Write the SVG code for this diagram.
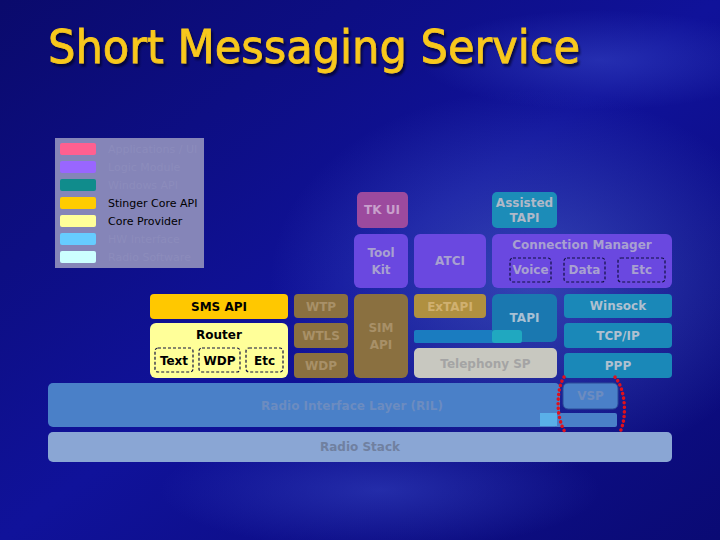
<svg xmlns="http://www.w3.org/2000/svg" width="720" height="540" viewBox="0 0 720 540">
<defs>
<linearGradient id="bg" x1="0" y1="0" x2="1" y2="1">
<stop offset="0" stop-color="#0a0a6c"/>
<stop offset="0.5" stop-color="#10129a"/>
<stop offset="1" stop-color="#0a0a74"/>
</linearGradient>
<radialGradient id="glow1" cx="0.5" cy="0.5" r="0.5">
<stop offset="0" stop-color="#5a78d8" stop-opacity="0.5"/>
<stop offset="1" stop-color="#5a78d8" stop-opacity="0"/>
</radialGradient>
<radialGradient id="glow2" cx="0.5" cy="0.5" r="0.5">
<stop offset="0" stop-color="#3a4ac8" stop-opacity="0.5"/>
<stop offset="1" stop-color="#3a4ac8" stop-opacity="0"/>
</radialGradient>
<filter id="shadow" x="-5%" y="-20%" width="110%" height="140%">
<feDropShadow dx="2" dy="3" stdDeviation="1" flood-color="#000020" flood-opacity="0.7"/>
</filter>
<style>
text{font-family:"DejaVu Sans","Liberation Sans",sans-serif;text-anchor:middle}
.lbl{font-size:12px;font-weight:bold}
.leg{font-size:11px;text-anchor:start}
.dash{fill:none;stroke:#101040;stroke-width:1.2;stroke-dasharray:3 2}
.red{fill:none;stroke:#e0101c;stroke-width:3.5;stroke-dasharray:0.1 4.5;stroke-linecap:round}
</style>
</defs>
<rect width="720" height="540" fill="url(#bg)"/>
<ellipse cx="530" cy="280" rx="260" ry="190" fill="url(#glow1)"/>
<ellipse cx="380" cy="490" rx="220" ry="60" fill="url(#glow2)"/>
<ellipse cx="600" cy="60" rx="180" ry="50" fill="url(#glow2)"/>

<g id="title">
<text x="48" y="63" font-size="47" fill="#f8c81c" stroke="#f8c81c" stroke-width="0.8" filter="url(#shadow)" style="text-anchor:start" textLength="532" lengthAdjust="spacingAndGlyphs">Short Messaging Service</text>
</g>

<g id="legend">
<rect x="55" y="138" width="149" height="130" fill="#8585b8"/>
<rect x="60" y="143" width="36" height="12" rx="2" fill="#ff6090"/>
<rect x="60" y="161" width="36" height="12" rx="2" fill="#9966ff"/>
<rect x="60" y="179" width="36" height="12" rx="2" fill="#108c8c"/>
<rect x="60" y="197" width="36" height="12" rx="2" fill="#ffcc00"/>
<rect x="60" y="215" width="36" height="12" rx="2" fill="#ffff99"/>
<rect x="60" y="233" width="36" height="12" rx="2" fill="#66ccff"/>
<rect x="60" y="251" width="36" height="12" rx="2" fill="#ccffff"/>
<text class="leg" x="108" y="153" fill="#8c8cbc">Applications / UI</text>
<text class="leg" x="108" y="171" fill="#8c8cbc">Logic Module</text>
<text class="leg" x="108" y="189" fill="#8c8cbc">Windows API</text>
<text class="leg" x="108" y="207" fill="#000000">Stinger Core API</text>
<text class="leg" x="108" y="225" fill="#000000">Core Provider</text>
<text class="leg" x="108" y="243" fill="#8c8cbc">HW Interface</text>
<text class="leg" x="108" y="261" fill="#8c8cbc">Radio Software</text>
</g>

<g id="tkui">
<rect x="357" y="192" width="51" height="36" rx="5" fill="#9c4a9e"/>
<text class="lbl" x="382" y="214" fill="#c8a0cc">TK UI</text>
</g>
<g id="assisted-tapi">
<rect x="492" y="192" width="65" height="36" rx="5" fill="#1c8cb8"/>
<text class="lbl" x="524.5" y="207" fill="#b0b8c8">Assisted</text>
<text class="lbl" x="524.5" y="222" fill="#b0b8c8">TAPI</text>
</g>
<g id="toolkit">
<rect x="354" y="234" width="54" height="54" rx="6" fill="#6a48e0"/>
<text class="lbl" x="381" y="257" fill="#a8a0d0">Tool</text>
<text class="lbl" x="381" y="274" fill="#a8a0d0">Kit</text>
</g>
<g id="atci">
<rect x="414" y="234" width="72" height="54" rx="6" fill="#6a48e0"/>
<text class="lbl" x="450" y="265" fill="#a8a0d0">ATCI</text>
</g>
<g id="connection-manager">
<rect x="492" y="234" width="180" height="54" rx="6" fill="#6a48e0"/>
<text class="lbl" x="582" y="249" fill="#a8a0d0">Connection Manager</text>
<rect class="dash" x="510" y="258" width="41" height="24" rx="3"/>
<text class="lbl" x="530.5" y="274" fill="#a8a0d0">Voice</text>
<rect class="dash" x="564" y="258" width="41" height="24" rx="3"/>
<text class="lbl" x="584.5" y="274" fill="#a8a0d0">Data</text>
<rect class="dash" x="618" y="258" width="47" height="24" rx="3"/>
<text class="lbl" x="641.5" y="274" fill="#a8a0d0">Etc</text>
</g>

<g id="sms-api">
<rect x="150" y="294" width="138" height="25" rx="4" fill="#ffc800"/>
<text class="lbl" x="219" y="311" fill="#000000">SMS API</text>
</g>
<g id="router">
<rect x="150" y="323" width="138" height="55" rx="6" fill="#ffff99"/>
<text class="lbl" x="219" y="339" fill="#000000">Router</text>
<rect class="dash" x="155" y="348" width="38" height="24" rx="3"/>
<text class="lbl" x="174" y="365" fill="#000000">Text</text>
<rect class="dash" x="199" y="348" width="41" height="24" rx="3"/>
<text class="lbl" x="219.5" y="365" fill="#000000">WDP</text>
<rect class="dash" x="246" y="348" width="37" height="24" rx="3"/>
<text class="lbl" x="264.5" y="365" fill="#000000">Etc</text>
</g>
<g id="wtp">
<rect x="294" y="294" width="54" height="24" rx="4" fill="#8a7040"/>
<text class="lbl" x="321" y="311" fill="#a89068">WTP</text>
</g>
<g id="wtls">
<rect x="294" y="323" width="54" height="25" rx="4" fill="#8a7040"/>
<text class="lbl" x="321" y="340" fill="#a89068">WTLS</text>
</g>
<g id="wdp">
<rect x="294" y="353" width="54" height="25" rx="4" fill="#8a7040"/>
<text class="lbl" x="321" y="370" fill="#a89068">WDP</text>
</g>
<g id="sim-api">
<rect x="354" y="294" width="54" height="84" rx="6" fill="#8a7040"/>
<text class="lbl" x="381" y="332" fill="#a89068">SIM</text>
<text class="lbl" x="381" y="349" fill="#a89068">API</text>
</g>
<g id="extapi">
<rect x="414" y="294" width="72" height="24" rx="4" fill="#b09040"/>
<text class="lbl" x="450" y="311" fill="#d0b070">ExTAPI</text>
</g>
<g id="tapi">
<rect x="414" y="330" width="108" height="13" rx="2" fill="#1a7cc0"/>
<rect x="492" y="294" width="65" height="48" rx="6" fill="#1a78b0"/>
<rect x="492" y="330" width="30" height="13" rx="3" fill="#20a8c0"/>
<text class="lbl" x="524.5" y="322" fill="#a8c0d4">TAPI</text>
</g>
<g id="telephony-sp">
<rect x="414" y="348" width="143" height="30" rx="5" fill="#c8c8c0"/>
<text class="lbl" x="485.5" y="368" fill="#a4a4a4">Telephony SP</text>
</g>
<g id="winsock">
<rect x="564" y="294" width="108" height="24" rx="4" fill="#1a88b8"/>
<text class="lbl" x="618" y="310" fill="#b0c0d0">Winsock</text>
</g>
<g id="tcpip">
<rect x="564" y="323" width="108" height="25" rx="4" fill="#1a88b8"/>
<text class="lbl" x="618" y="340" fill="#b0c0d0">TCP/IP</text>
</g>
<g id="ppp">
<rect x="564" y="353" width="108" height="25" rx="4" fill="#1a88b8"/>
<text class="lbl" x="618" y="370" fill="#b0c0d0">PPP</text>
</g>

<g id="ril">
<rect x="48" y="383" width="512" height="44" rx="5" fill="#4a80c8"/>
<rect x="555" y="413" width="62" height="14" rx="2" fill="#4a80c8"/>
<rect x="540" y="413" width="17" height="13" fill="#5ab0e8"/>
<text class="lbl" x="352" y="410" fill="#6c8cc0">Radio Interface Layer (RIL)</text>
</g>
<g id="vsp">
<rect x="563" y="383" width="55" height="26" rx="5" fill="#4a80c8" stroke="#2a4a98" stroke-width="1"/>
<text class="lbl" x="590.5" y="400" fill="#6c8cc0">VSP</text>
</g>
<g id="radio-stack">
<rect x="48" y="432" width="624" height="30" rx="5" fill="#8aa6d4"/>
<text class="lbl" x="360" y="451" fill="#7080a0">Radio Stack</text>
</g>

<g id="annotation">
<path class="red" d="M564 377 C556 390 556 418 565 432"/>
<path class="red" d="M615 377 C626 390 627 418 620 432"/>
</g>
</svg>
